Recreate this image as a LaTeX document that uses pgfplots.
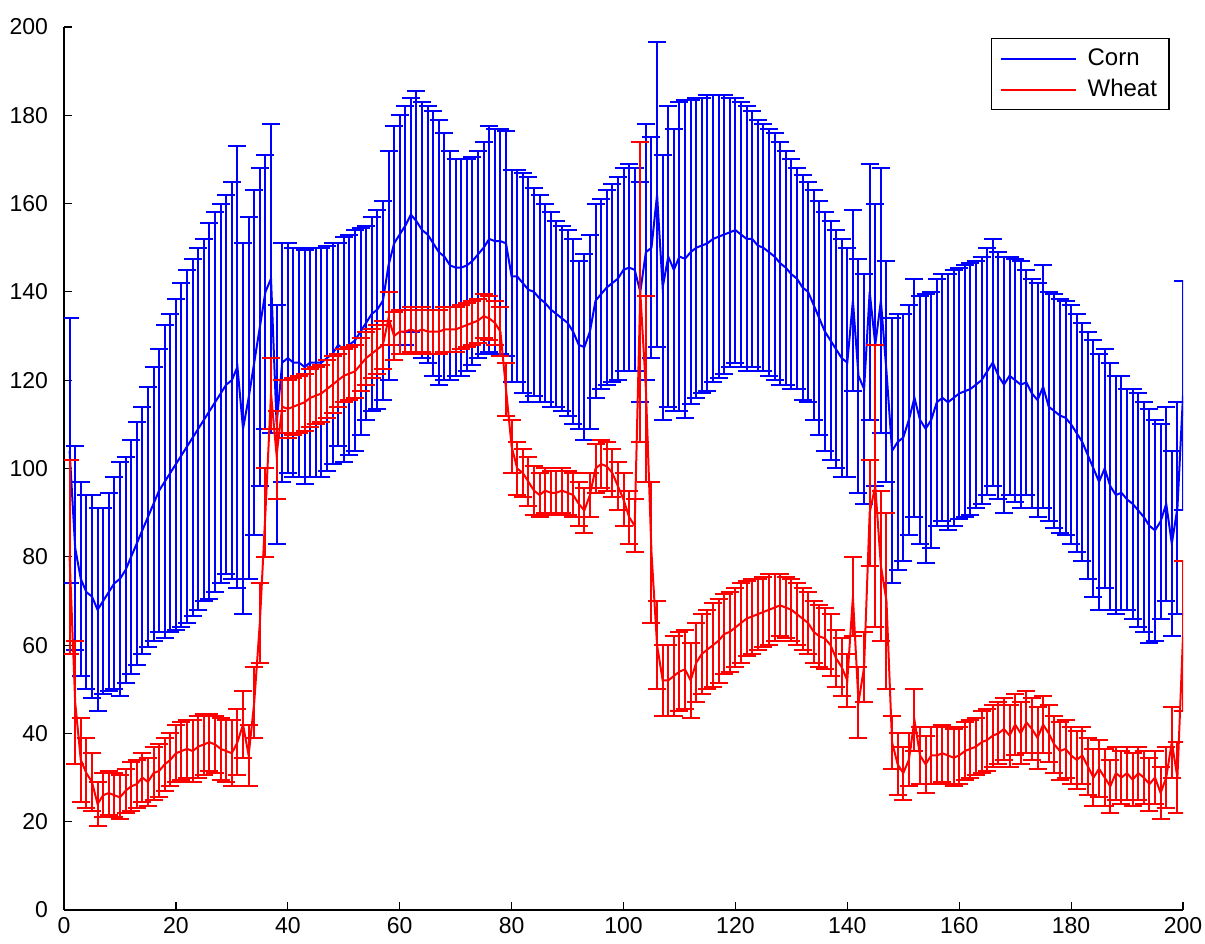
\documentclass[border=0pt]{standalone}
\usepackage{fontspec}
\setmainfont{Liberation Sans}
\usepackage{pgfplots}
\usepackage{pgfplotstable}
\pgfplotsset{compat=1.18}

\pgfplotstableread{
x m e
1 104 30
2 82 23
3 75 22
4 72 22
5 71 23
6 68 23
7 70 21
8 72 22.5
9 74 24
10 75 26.5
11 77 25.5
12 80 26.5
13 83 27.5
14 86 28
15 89 29.5
16 92 31
17 95 32
18 97 35.5
19 99 36
20 101 37.5
21 103 39
22 105 40
23 107 40.5
24 109 41
25 111 41
26 113 42.5
27 115 43
28 117 43
29 119 43
30 120 45
31 123 50
32 109 42
33 116 41
34 124 39
35 132 36
36 140 31
37 143 35
38 110 27
39 124 27
40 125 26
41 124 26
42 124 26
43 123 26.5
44 124 26
45 124 26
46 124 26
47 125 25.5
48 126 25
49 128 23
50 127 25.5
51 128 25
52 129 25
53 131 23.5
54 133 22
55 135 22
56 136 22.5
57 138 22.5
58 146 26
59 151 26.5
60 153 27
61 155 27
62 157.5 26.5
63 156 29.5
64 154 29
65 153 29
66 151 30
67 149 30
68 148 28
69 146 26
70 145.5 24.5
71 145.5 24.5
72 146 24
73 147 23.5
74 148.5 23.5
75 150 24
76 152 25.5
77 151.5 25.5
78 151.5 25.5
79 151 25.5
80 143.5 24
81 143.5 24
82 142 25
83 140.5 25.5
84 140 23.5
85 138.5 23.5
86 137.5 22.5
87 136 22
88 135 21
89 134 21
90 133 21
91 131 21
92 128 19
93 127.5 21
94 131 22
95 138 22
96 139.5 21.5
97 141 22
98 142 22.5
99 143 23
100 145 23
101 145.5 23.5
102 145 23
103 140 25
104 149 29
105 150 25
106 162 34.5
107 141 30
108 148 34
109 145 32
110 148 35
111 147.5 36
112 149 34.5
113 150 34
114 150.5 33.5
115 151 33.5
116 152 32.5
117 152.5 32
118 153 31.5
119 153.5 30.5
120 154 30
121 153 30
122 152 30
123 152 29
124 150.5 28.5
125 150 28
126 149 28
127 148 28
128 146.5 27.5
129 145.5 26.5
130 144 26
131 143 25
132 141 25.5
133 140 25
134 137 26
135 134 26.5
136 131 27
137 129 27
138 127 27
139 125 27
140 124 26
141 138 20.5
142 121 26.5
143 118 26
144 140 29
145 128 32
146 138 30
147 122 25
148 104 30
149 106 29
150 107 28
151 111 26
152 116 27
153 111 28
154 109 30.5
155 111 29
156 115 28
157 116 28
158 115 29
159 116 29
160 117 28.5
161 117.5 28.5
162 118 28.5
163 119 28
164 120 28
165 122 28
166 124 28
167 121 28
168 119 29
169 121 27
170 120 27.5
171 119 28
172 119.5 25.5
173 117 26
174 115.5 26.5
175 118.5 27.5
176 114 26
177 113 26.5
178 112 26.5
179 111.5 26.5
180 110 27
181 108 27
182 106 27
183 103 28
184 100 29
185 97 29
186 100 27
187 96 28
188 94 27
189 94.5 26.5
190 93 25
191 92 26
192 90.5 26.5
193 89 26
194 87 26.5
195 86 25
196 88 22
197 92 22
198 83 21
199 91 24
200 116.5 26
}\corn

\pgfplotstableread{
x m e
1 80 22
2 47 14
3 34 9.5
4 31 8
5 29 6.5
6 24 5
7 26 5
8 26.5 5
9 26 5
10 25.5 5
11 27 5
12 28 5.5
13 28.5 5.5
14 30 5.5
15 29 5.5
16 31 6
17 31.5 6
18 33 6
19 34 6
20 35.5 6.5
21 36 6.5
22 36.5 6.5
23 36 7
24 37 7
25 37.5 7
26 38 6.5
27 37.5 6.5
28 36.5 7
29 36 7
30 35.5 7.5
31 38 7.5
32 42 7.5
33 35 7
34 47 8
35 65 9
36 90 10
37 117 8
38 103 10
39 114 6
40 113.5 6.5
41 114 6.5
42 114.5 6.5
43 115 6.5
44 116 6.5
45 116.5 6.5
46 117 6.5
47 118 6.5
48 119 6.5
49 120 6
50 121 6
51 121.5 6
52 122 6
53 123.5 6
54 125 6
55 126 5.5
56 127 5.5
57 128 5.5
58 134 6
59 130 5.5
60 131 5
61 131 5
62 131.5 5
63 131 5
64 131.5 5
65 131 5
66 131 5
67 131 5
68 131.5 5
69 131.5 5
70 131.5 5
71 132 5
72 132.5 5
73 133 5
74 133.5 5
75 134.5 5
76 134 5
77 133 5
78 131 5.5
79 118 6
80 105 6
81 100 6
82 99 5.5
83 97 5.5
84 95 5.5
85 94 5
86 95 5
87 94.5 5
88 94.5 5
89 95 5
90 94.5 5
91 94 5
92 92 5
93 90.5 5
94 94 5
95 100 5.5
96 101 5.5
97 100.5 5.5
98 99 5.5
99 96 5.5
100 93 6
101 89 6
102 87 6
103 140 34
104 118 21
105 81 16
106 60 10
107 52 8
108 52 8
109 53 9
110 54 9
111 54.5 9
112 52 8.5
113 56 9
114 58 9
115 59 9
116 60 9.5
117 61 9.5
118 62.5 9
119 63 9
120 64 9
121 65 9
122 66 8.5
123 66.5 8.5
124 67 8
125 67.5 8
126 68 8
127 68.5 7.5
128 69 7
129 68.5 7
130 68 7
131 67 7
132 66 7
133 65 7
134 63 7
135 62 7
136 61.5 7
137 60 7
138 57 6.5
139 55 6.5
140 52 6
141 71 9
142 47 8
143 55 8
144 90 12
145 96 32
146 78 17
147 70 20
148 38 6
149 33 7
150 31 6
151 34 6
152 43 7
153 35 6.5
154 33 6.5
155 35 6.5
156 35 6.5
157 35.5 6.5
158 35 6.5
159 34.5 6.5
160 35 6.5
161 36 6.5
162 36.5 6.5
163 37 6.5
164 38 7
165 38.5 7
166 39.5 7
167 40 7
168 41 7
169 39.5 7
170 42 7
171 40 7
172 42.5 7
173 41 7
174 39 7
175 42 6.5
176 40 6.5
177 37.5 6.5
178 36 6.5
179 36.5 6.5
180 35 6.5
181 34 6.5
182 35 6.5
183 32.5 6.5
184 30 6.5
185 32 6.5
186 30 6.5
187 28 6
188 31 6
189 30 6
190 31 6
191 29.5 6
192 31 6
193 30 6
194 28.5 6
195 30 6
196 26.5 6
197 30 7
198 38 8
199 30 8
200 62 17
}\wheat

\begin{document}
\begin{tikzpicture}
\begin{axis}[
  scale only axis,
  width=559.5pt, height=441.5pt,
  xmin=0, xmax=200, ymin=0, ymax=200,
  xtick={0,20,...,200}, ytick={0,20,...,200},
  axis x line*=bottom, axis y line*=left,
  axis line style={line width=0.6pt},
  tick align=inside, major tick length=4pt,
  tick style={black, line width=0.6pt},
  every tick label/.append style={font=\fontsize{11.5}{13}\selectfont},
  yticklabel style={xshift=-4.5pt},
  /pgf/number format/assume math mode=true,
  legend style={at={(axis description cs:0.988,0.9875)}, anchor=north east,
    draw=black, line width=0.6pt, font=\fontsize{12}{14}\selectfont,
    inner xsep=4pt, inner ysep=3pt, row sep=1.5pt, cells={anchor=west}},
  legend image code/.code={\draw[#1, line width=1pt] (0pt,0pt) -- (37.5pt,0pt); \path (41pt,0pt);},
]
\addplot[blue, line width=1pt, mark=none,
  error bars/.cd, y dir=both, y explicit,
  error bar style={blue, line width=1pt},
  error mark options={blue, line width=1pt, mark size=4.5pt, rotate=90}]
  table[x=x, y=m, y error=e] {\corn};
\addplot[red, line width=1pt, mark=none,
  error bars/.cd, y dir=both, y explicit,
  error bar style={red, line width=1pt},
  error mark options={red, line width=1pt, mark size=4.5pt, rotate=90}]
  table[x=x, y=m, y error=e] {\wheat};
\legend{Corn, Wheat}
\end{axis}
\pgfresetboundingbox
\path ([xshift=-32pt,yshift=-16.5pt]current axis.south west) rectangle ([xshift=11pt,yshift=13.5pt]current axis.north east);
\end{tikzpicture}
\end{document}
